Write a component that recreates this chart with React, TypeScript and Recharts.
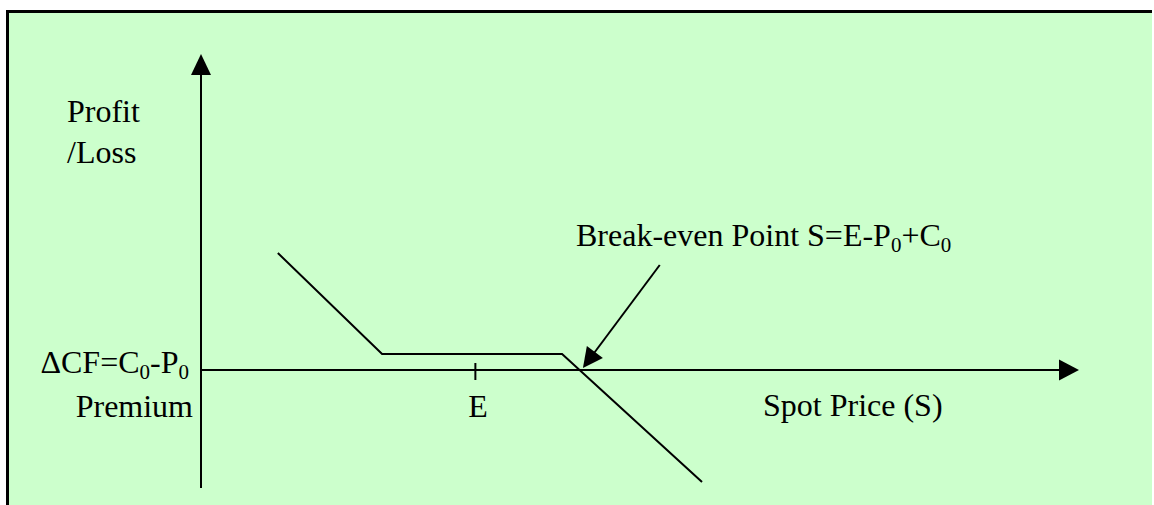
import React from 'react'
import { LineChart, Line, XAxis, YAxis, ReferenceLine } from 'recharts'

// payoff of the position (profit/loss vs spot price)
const spotPrice = [1.4, 3.3, 6.58, 9.13]
const profitLoss = [2.34, 0.32, 0.32, -2.24]

const xDomain: [number, number] = [0, 16]
const yDomain: [number, number] = [-2.36, 6.32]

const strikeE = 5
const breakEvenTip = { s: 6.96, pl: 0.04 }
const calloutStart = { s: 8.36, pl: 2.1 }

const payoff = spotPrice.map((s, i) => ({ s, pl: profitLoss[i] }))

const FONT = "'Liberation Serif', 'Times New Roman', Times, serif"

// line with a filled triangular head at (x2, y2)
function arrowShape(headLen: number, headHalf: number) {
  return (props: any) => {
    const { x1, y1, x2, y2 } = props
    const dx = x2 - x1
    const dy = y2 - y1
    const len = Math.sqrt(dx * dx + dy * dy) || 1
    const ux = dx / len
    const uy = dy / len
    const bx = x2 - ux * headLen
    const by = y2 - uy * headLen
    const px = -uy * headHalf
    const py = ux * headHalf
    return (
      <g>
        <line x1={x1} y1={y1} x2={bx + ux} y2={by + uy} stroke="#000" strokeWidth={2} />
        <polygon points={`${x2},${y2} ${bx + px},${by + py} ${bx - px},${by - py}`} fill="#000" />
      </g>
    )
  }
}

export default function App() {
  return (
    <div style={{ position: 'absolute', left: 0, top: 0, width: 1154, height: 505, background: '#fff', overflow: 'hidden' }}>
      <div
        style={{
          position: 'absolute',
          left: 6,
          top: 10,
          width: 1146,
          height: 495,
          boxSizing: 'border-box',
          borderLeft: '3px solid #000',
          borderTop: '3px solid #000',
          background: '#CCFFCC',
        }}
      />
      <div style={{ position: 'absolute', left: 0, top: 0 }}>
        <LineChart width={1154} height={505} data={payoff} margin={{ top: 54, right: 75, bottom: 17, left: 201 }}>
          <XAxis type="number" dataKey="s" domain={xDomain} hide />
          <YAxis type="number" domain={yDomain} hide />
          {/* axes */}
          <ReferenceLine
            segment={[{ x: 0, y: yDomain[0] }, { x: 0, y: yDomain[1] }]}
            ifOverflow="visible"
            shape={arrowShape(21, 10)}
          />
          <ReferenceLine
            segment={[{ x: 0, y: 0 }, { x: xDomain[1], y: 0 }]}
            ifOverflow="visible"
            shape={arrowShape(20, 10.5)}
          />
          {/* strike tick */}
          <ReferenceLine
            segment={[{ x: strikeE, y: 0.14 }, { x: strikeE, y: -0.2 }]}
            ifOverflow="visible"
            stroke="#000"
            strokeWidth={2}
          />
          <Line
            type="linear"
            dataKey="pl"
            stroke="#000"
            strokeWidth={2}
            dot={false}
            activeDot={false}
            isAnimationActive={false}
          />
          {/* break-even callout */}
          <ReferenceLine
            segment={[{ x: calloutStart.s, y: calloutStart.pl }, { x: breakEvenTip.s, y: breakEvenTip.pl }]}
            ifOverflow="visible"
            shape={arrowShape(20, 10)}
          />
        </LineChart>
      </div>
      <svg width={1154} height={505} style={{ position: 'absolute', left: 0, top: 0, pointerEvents: 'none' }}>
        <g style={{ fontFamily: FONT, fontSize: 32 }} fill="#000">
          <text x={67} y={122}>Profit</text>
          <text x={67} y={163}>/Loss</text>
          <text x={189} y={373} textAnchor="end">
            <tspan>ΔCF=C</tspan>
            <tspan dy={6} style={{ fontSize: 21 }}>0</tspan>
            <tspan dy={-6}>-P</tspan>
            <tspan dy={6} style={{ fontSize: 21 }}>0</tspan>
          </text>
          <text x={193} y={417} textAnchor="end">Premium</text>
          <text x={478} y={417} textAnchor="middle">E</text>
          <text x={763} y={416}>Spot Price (S)</text>
          <text x={576} y={246}>
            <tspan>Break-even Point S=E-P</tspan>
            <tspan dy={6} style={{ fontSize: 21 }}>0</tspan>
            <tspan dy={-6}>+C</tspan>
            <tspan dy={6} style={{ fontSize: 21 }}>0</tspan>
          </text>
        </g>
      </svg>
    </div>
  )
}
